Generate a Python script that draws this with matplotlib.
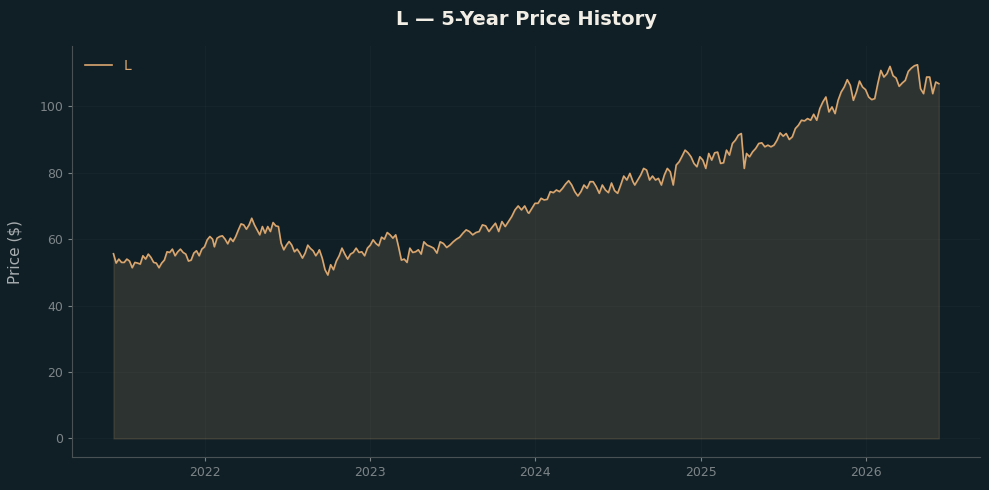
import numpy as np
import pandas as pd
import matplotlib
matplotlib.use("Agg")
import matplotlib.pyplot as plt
import matplotlib.dates as mdates

# price readings, split into stretches with their start / end dates
seg_bounds = [
    ("2021-06-13", "2022-01-18"),
    ("2022-01-22", "2022-09-09"),
    ("2022-09-11", "2023-04-24"),
    ("2023-04-30", "2023-12-16"),
    ("2023-12-18", "2024-08-04"),
    ("2024-08-08", "2025-04-07"),
    ("2025-04-12", "2026-06-11"),
]

prices_a = [55.6, 52.8, 54, 53, 53, 54, 53.4, 51.4, 53, 52.8, 52.5, 55, 54, 55.5, 54.5,
            53, 52.8, 51.4, 52.8, 53.7, 56.2, 56, 57, 55, 56.2, 57, 56, 55.5, 53.4, 53.7,
            55.8, 56.5, 55, 57, 57.7, 59.8, 60.8, 60]
prices_b = [57.7, 60.3, 60.8, 61, 60, 58.6, 60.3, 59.3, 60.8, 62.8, 64.6, 64.3, 63, 64.3,
            66.3, 64.3, 62.8, 61.3, 63.8, 61.8, 63.8, 62.3, 65, 64, 63.8, 58.8, 56.8, 58.2,
            59.3, 58.2, 56.2, 57, 55.8, 54.3, 55.8, 58.2, 57.2, 56.5, 55, 56.2]
prices_c = [56.8, 54.3, 50.8, 49.2, 52.3, 50.8, 53.4, 55, 57.3, 55.5, 54, 55.5, 56, 57.3,
            56, 56.2, 55, 57.3, 58.2, 59.8, 58.7, 58, 60.6, 60, 62, 61.3, 60.3, 61.3, 57.7,
            53.7, 54, 53, 57.3, 56, 56.2, 56.8, 55.5]
prices_d = [59.2, 58.2, 57.8, 57.3, 55.8, 59.2, 58.7, 57.5, 58.2, 59.2, 60, 60.6, 61.8,
            62.8, 62.3, 61.3, 62, 62.3, 64.3, 64, 62.3, 63.6, 64.8, 62.3, 65.3, 63.8, 65.3,
            66.8, 68.8, 70, 68.8, 70, 68]
prices_e = [67.8, 69.3, 70.8, 70.8, 72.3, 71.8, 72, 74.3, 74, 74.8, 74.3, 75.3, 76.6, 77.6,
            76.3, 74.3, 73, 74.3, 76.3, 75.3, 77.3, 77.3, 75.8, 73.8, 76.3, 74.8, 74, 76.9,
            74.6, 73.8, 76.3, 79, 77.8, 79.8, 77.3]
prices_f = [76.3, 77.8, 79.3, 81.3, 80.8, 77.8, 79, 77.8, 78.3, 76.3, 79.3, 81.3, 80.3,
            76.3, 82.3, 83.3, 85, 86.8, 86, 84.8, 82.8, 81.8, 84.8, 83.8, 81.3, 85.8, 83.8,
            86, 86.2, 82.8, 83, 86.8, 85.3, 88.8, 89.8, 91.3, 91.8, 81.3]
prices_g = [85.8, 84.8, 86.3, 87.3, 88.8, 89, 87.8, 88.3, 87.8, 88.3, 89.8, 92, 91, 91.8,
            90, 90.8, 93.3, 94.3, 95.8, 95.6, 96.3, 95.8, 97.6, 95.8, 99.3, 101.3, 102.8,
            98.3, 99.8, 97.8, 101.8, 104.3, 105.8, 108, 106.3, 101.8, 104.3, 107.6, 105.8,
            105, 102.8, 102, 102.3, 106.8, 110.8, 108.8, 109.8, 112, 109.2, 108.5, 106, 107,
            107.8, 110.5, 111.5, 112.2, 112.5, 105.3, 103.8, 108.8, 108.8, 103.8, 107.3, 106.8]

segments = [prices_a, prices_b, prices_c, prices_d, prices_e, prices_f, prices_g]

dates = []
values = []
for (start, end), vals in zip(seg_bounds, segments):
    t0 = pd.Timestamp(start).value
    t1 = pd.Timestamp(end).value
    dates.extend(pd.to_datetime(np.linspace(t0, t1, len(vals))))
    values.extend(vals)
dates = pd.DatetimeIndex(dates)
values = np.array(values)

BG = "#101f26"
LINE = "#d9a66f"

fig, ax = plt.subplots(figsize=(9.89, 4.9), dpi=100)
fig.patch.set_facecolor(BG)
ax.set_facecolor(BG)

ax.fill_between(dates, values, 0, color=LINE, alpha=0.15)
ax.plot(dates, values, color=LINE, lw=1.2, label="L")

ax.set_title("L — 5-Year Price History", color="#f2eee6", fontsize=14,
             fontweight="bold", pad=15)
ax.set_ylabel("Price ($)", color="#a9aeb0", fontsize=11, labelpad=12)

ax.xaxis.set_major_locator(mdates.YearLocator())
ax.xaxis.set_major_formatter(mdates.DateFormatter("%Y"))

ax.grid(True, color="#ffffff", alpha=0.025, lw=0.8)
for side in ["top", "right"]:
    ax.spines[side].set_visible(False)
for side in ["left", "bottom"]:
    ax.spines[side].set_color("#4a5155")
ax.tick_params(colors="#7d8487", labelsize=9, length=3)

leg = ax.legend(loc="upper left", frameon=False, fontsize=10)
for txt in leg.get_texts():
    txt.set_color(LINE)

fig.subplots_adjust(left=0.073, right=0.991, top=0.906, bottom=0.067)
fig.savefig("out.png", facecolor=BG)
